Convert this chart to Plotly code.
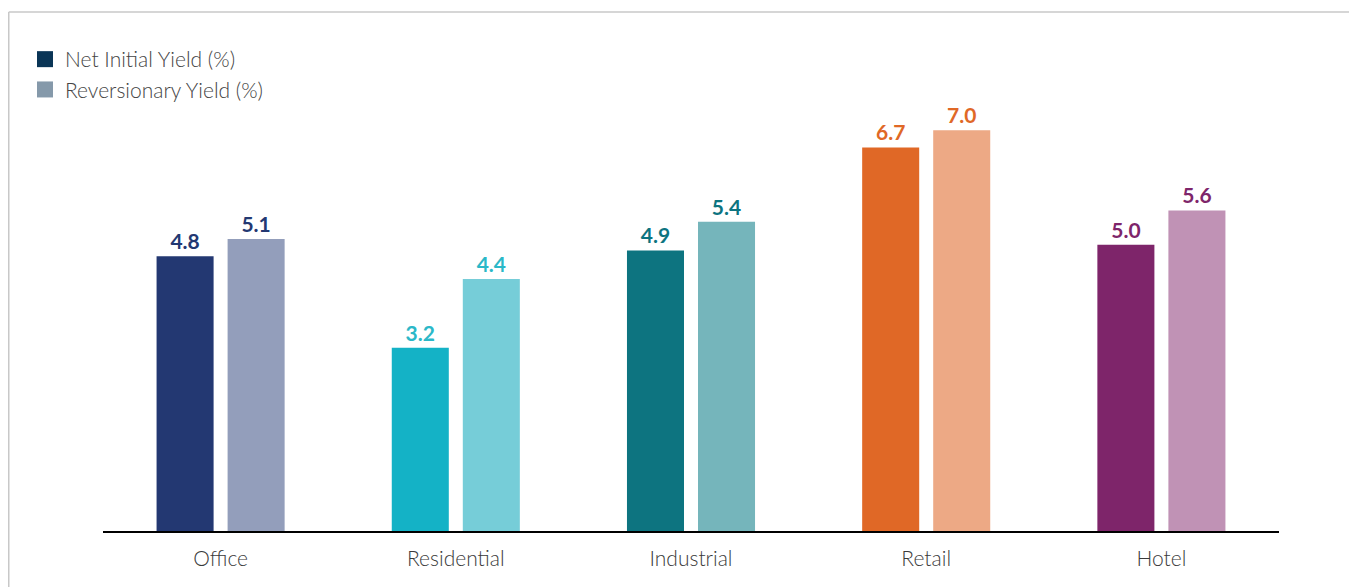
import plotly.graph_objects as go

categories = ["Office", "Residential", "Industrial", "Retail", "Hotel"]
net_initial_yield = [4.8, 3.2, 4.9, 6.7, 5.0]
reversionary_yield = [5.1, 4.4, 5.4, 7.0, 5.6]
series_names = ["Net Initial Yield (%)", "Reversionary Yield (%)"]

niy_colors = ["#233872", "#14B2C6", "#0D7480", "#E06826", "#7E256A"]
ry_colors = ["#939EBB", "#76CDD8", "#75B5BB", "#EDA985", "#C092B5"]
label_colors = ["#233872", "#2BB8C8", "#0D7480", "#E06826", "#7E256A"]
legend_colors = ["#0A3556", "#8599AA"]

# page has an 8px body margin; figure coordinates below are relative to the figure
W, H = 1349, 579
ml, mr, mt, mb = 95, 78, 65, 56
pw, ph = W - ml - mr, H - mt - mb

def px_x(p):
    return (p - ml) / pw

def px_y(p):
    return (H - mb - p) / ph

fig = go.Figure()
fig.add_trace(go.Bar(
    x=categories, y=net_initial_yield, name=series_names[0], showlegend=False,
    marker=dict(color=niy_colors, line=dict(width=0)),
    text=[f"{v:.1f}" for v in net_initial_yield], textposition="outside",
    textfont=dict(color=label_colors, size=21, family="Lato", weight="bold"),
    cliponaxis=False,
))
fig.add_trace(go.Bar(
    x=categories, y=reversionary_yield, name=series_names[1], showlegend=False,
    marker=dict(color=ry_colors, line=dict(width=0)),
    text=[f"{v:.1f}" for v in reversionary_yield], textposition="outside",
    textfont=dict(color=label_colors, size=21, family="Lato", weight="bold"),
    cliponaxis=False,
))
for name, col in zip(series_names, legend_colors):
    fig.add_trace(go.Scatter(
        x=[None], y=[None], mode="markers", name=name,
        marker=dict(symbol="square", size=16, color=col),
    ))

fig.update_layout(
    width=W, height=H,
    margin=dict(l=ml, r=mr, t=mt, b=mb),
    paper_bgcolor="white", plot_bgcolor="white",
    barmode="group", bargap=0.396, bargroupgap=0.197,
    font=dict(family="Lato", color="#3a3a3a"),
    showlegend=True,
    legend=dict(
        x=px_x(17), y=px_y(31), xanchor="left", yanchor="top",
        font=dict(size=21, color="#444444", weight=300),
        itemsizing="trace", tracegroupgap=0, itemwidth=30,
        bgcolor="rgba(0,0,0,0)",
    ),
    xaxis=dict(
        showline=True, linecolor="black", linewidth=2,
        showgrid=False, ticks="", tickfont=dict(size=21, color="#3a3a3a", weight=300),
        ticklabelstandoff=8,
    ),
    yaxis=dict(range=[0, 8], visible=False, showgrid=False),
    shapes=[
        dict(type="line", xref="paper", yref="paper",
             x0=px_x(0.75), x1=px_x(W + 5), y0=px_y(4), y1=px_y(4),
             line=dict(color="#c8c8c8", width=1.5)),
        dict(type="line", xref="paper", yref="paper",
             x0=px_x(0.75), x1=px_x(0.75), y0=px_y(4), y1=px_y(H + 5),
             line=dict(color="#c8c8c8", width=1.5)),
    ],
)

fig.write_html("out.html")
